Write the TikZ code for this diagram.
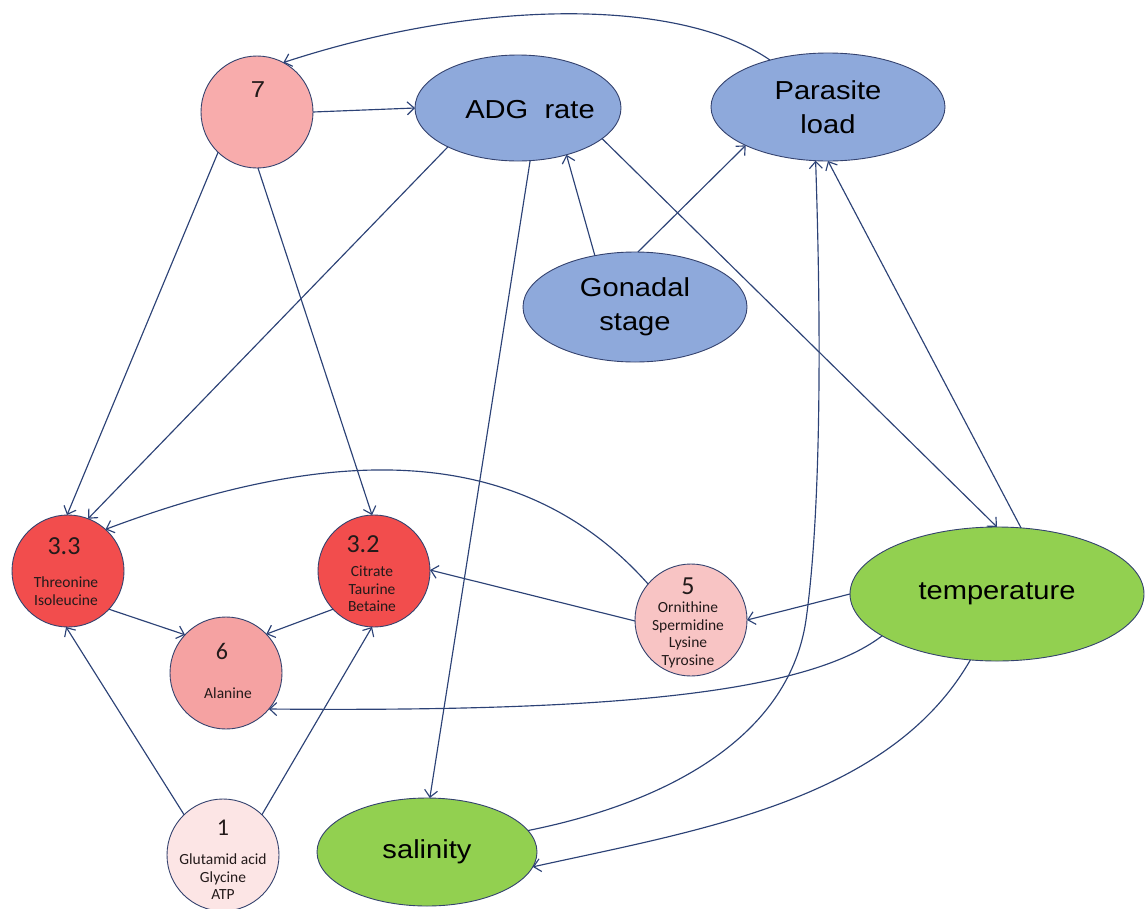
\documentclass[tikz,border=0pt]{standalone}
\usepackage{fontspec}
\setmainfont{Liberation Sans}
\newfontfamily\circfont{Carlito}
\newfontfamily\ovalfont[FakeStretch=1.12]{Liberation Sans}
\usetikzlibrary{arrows.meta,shapes.geometric}

\definecolor{edgecol}{HTML}{2C4276}
\definecolor{outlcol}{HTML}{34426E}
\definecolor{pinkA}{HTML}{F8ACAC}
\definecolor{pinkB}{HTML}{F5A2A2}
\definecolor{pinkC}{HTML}{F8C4C4}
\definecolor{pinkD}{HTML}{FCE5E5}
\definecolor{redF}{HTML}{F24D4D}
\definecolor{blueF}{HTML}{8EA9DB}
\definecolor{greenF}{HTML}{92D050}
\definecolor{txtcol}{HTML}{231A1A}

\begin{document}
\begin{tikzpicture}[x=1pt,y=-1pt,
  every node/.style={inner sep=0pt,outer sep=0pt},
  bubble/.style={circle,draw=outlcol,line width=0.9pt,minimum size=112pt},
  oval/.style={ellipse,draw=outlcol,line width=0.9pt,align=center,
    font=\ovalfont\fontsize{26}{34}\selectfont},
  ovaltxt/.style={align=center,font=\ovalfont\fontsize{26}{34}\selectfont},
  numtxt/.style={text=txtcol,font=\circfont\fontsize{26}{26}\selectfont},
  smallnum/.style={text=txtcol,font=\circfont\fontsize{24}{24}\selectfont},
  listtxt/.style={text=txtcol,align=center,font=\circfont\fontsize{15.5}{17.6}\selectfont},
  link/.style={draw=edgecol,line width=1.15pt,
    -{Straight Barb[length=7pt,width=13pt]}}
]
\useasboundingbox (0,0) rectangle (1146,908);
\clip (0,0) rectangle (1146,908);

% ---------- ellipses ----------
\node[oval,fill=blueF,minimum width=206pt,minimum height=106pt] (adg) at (518,108) {};
\node[ovaltxt] (adgt) at (530,110) {ADG~ rate};
\node[oval,fill=blueF,minimum width=234pt,minimum height=108pt] (pl) at (828,107) {Parasite\\load};
\node[oval,fill=blueF,minimum width=224pt,minimum height=110pt] (gs) at (635,307) {Gonadal\\stage};
\node[oval,fill=greenF,minimum width=294pt,minimum height=134pt] (tmp) at (997,594) {temperature};
\node[oval,fill=greenF,minimum width=220pt,minimum height=108pt] (sal) at (427,852) {salinity};

% ---------- circles ----------
\node[bubble,fill=pinkA] (n7) at (257,112) {};
\node[text=txtcol,font=\ovalfont\fontsize{23}{23}\selectfont] (n7n) at (258,90) {7};

\node[bubble,fill=redF] (n33) at (68,571) {};
\node[numtxt] (n33n) at (64,546) {3.3};
\node[listtxt] (n33l) at (66,591) {Threonine\\Isoleucine};

\node[bubble,fill=redF] (n32) at (374,571) {};
\node[numtxt] (n32n) at (363,544) {3.2};
\node[listtxt] (n32l) at (372,589) {Citrate\\Taurine\\Betaine};

\node[bubble,fill=pinkB] (n6) at (226,673) {};
\node[smallnum] (n6n) at (222,651) {6};
\node[listtxt] (n6l) at (228,693) {Alanine};

\node[bubble,fill=pinkC] (n5) at (691,620) {};
\node[numtxt] (n5n) at (688,586) {5};
\node[listtxt] (n5l) at (688,635) {Ornithine\\Spermidine\\Lysine\\Tyrosine};

\node[bubble,fill=pinkD] (n1) at (223,855) {};
\node[smallnum] (n1n) at (223,828) {1};
\node[listtxt] (n1l) at (223,877) {Glutamid acid\\Glycine\\ATP};

% ---------- connectors ----------
\draw[link] (pl.141) .. controls (680,-2) and (480,-2) .. (n7.62);
\draw[link] (n7.east) -- (adg.west);
\draw[link] (n7.226) -- (n33.91);
\draw[link] (n7.271) -- (n32.92);
\draw[link] (adg.209) -- (n33.69);
\draw[link] (adg.283) -- (sal.87);
\draw[link] (adg.340) -- (tmp.90);
\draw[link] (gs.128) -- (adg.316);
\draw[link] (gs.87) -- (pl.205);
\draw[link] (tmp.70) -- (pl.270);
\draw[link] (sal.12) .. controls (680,800) and (790,730) .. (806,620)
                      .. controls (820,520) and (822,350) .. (pl.257);
\draw[link] (n5.140) .. controls (520,440) and (330,445) .. (n33.48);
\draw[link] (n5.181) -- (n32.1);
\draw[link] (tmp.180) -- (n5.0);
\draw[link] (tmp.200) .. controls (805,695) and (600,712) .. (n6.320);
\draw[link] (tmp.248) .. controls (890,800) and (700,830) .. (sal.352);
\draw[link] (n33.317) -- (n6.137);
\draw[link] (n32.223) -- (n6.44);
\draw[link] (n1.134) -- (n33.268);
\draw[link] (n1.46) -- (n32.268);
\end{tikzpicture}
\end{document}
